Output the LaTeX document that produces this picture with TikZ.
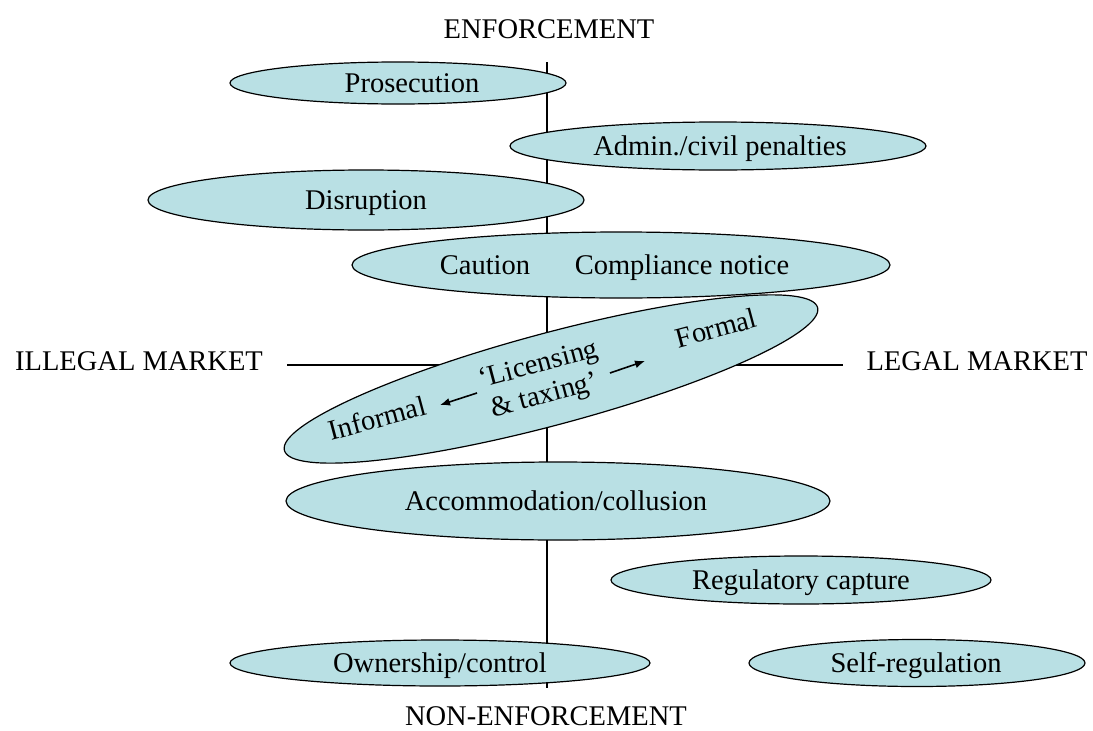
\documentclass[tikz,border=0pt]{standalone}
\usepackage{fontspec}
\setmainfont{Liberation Serif}
\usetikzlibrary{shapes.geometric,arrows.meta}
\definecolor{ellfill}{RGB}{185,224,228}
\begin{document}
\begin{tikzpicture}[x=1pt,y=-1pt,
  every node/.style={font=\fontsize{28.5}{33}\selectfont, inner sep=0pt},
  lbl/.style={text height=19pt, text depth=0pt},
  ell/.style={ellipse, draw=black, line width=1.2pt, fill=ellfill},
  axis/.style={line width=1.1pt},
  arr/.style={line width=1.6pt, -{Latex[length=10pt,width=8pt]}}]
\useasboundingbox (0,0) rectangle (1093,731);
% axes
\coordinate (vt) at (547,62);
\coordinate (vb) at (547,688);
\coordinate (hl) at (287,365);
\coordinate (hr) at (843,365);
\draw[axis] (vt) -- (vb);
\draw[axis] (hl) -- (hr);
% axis labels
\node[lbl] (enf) at (549,29) {ENFORCEMENT};
\node[lbl] (nonenf) at (546,716) {NON-ENFORCEMENT};
\node[lbl] (illegal) at (139,361) {ILLEGAL MARKET};
\node[lbl] (legal) at (977,361) {LEGAL MARKET};
% ellipses
\node[ell, minimum width=336pt, minimum height=42pt] (pros) at (398,83) {};
\node[lbl] (prost) at (412,83) {Prosecution};
\node[ell, minimum width=416pt, minimum height=48pt] (admin) at (718,146) {};
\node[lbl] at (720,146) {Admin./civil penalties};
\node[ell, minimum width=436pt, minimum height=60pt] (disr) at (366,200) {};
\node[lbl] at (disr.center) {Disruption};
\node[ell, minimum width=538pt, minimum height=66pt] (caut) at (621,265) {};
\node[lbl] (cautt) at (485,265) {Caution};
\node[lbl] (compl) at (682,265) {Compliance notice};
\node[ell, rotate=15, minimum width=552pt, minimum height=92pt] (lic) at (551,379) {};
\node[rotate=15] (inf) at (377,418) {Informal};
\node[rotate=15] (form) at (716,328) {Formal};
\node[rotate=15] (lic1) at (539,366) {`Licensing};
\node[rotate=15] (lic2) at (545,397) {\& taxing'};
\coordinate (la1) at (477,393);
\coordinate (la2) at (440,405);
\coordinate (ra1) at (610,373);
\coordinate (ra2) at (645,361);
\draw[arr] (la1) -- (la2);
\draw[arr] (ra1) -- (ra2);
\node[ell, minimum width=544pt, minimum height=78pt] (acc) at (558,501) {};
\node[lbl] at (556,501) {Accommodation/collusion};
\node[ell, minimum width=380pt, minimum height=48pt] (reg) at (801,580) {};
\node[lbl] at (reg.center) {Regulatory capture};
\node[ell, minimum width=420pt, minimum height=46pt] (own) at (440,663) {};
\node[lbl] at (own.center) {Ownership/control};
\node[ell, minimum width=336pt, minimum height=47pt] (self) at (917,663) {};
\node[lbl] at (916,663) {Self-regulation};
\end{tikzpicture}
\end{document}
